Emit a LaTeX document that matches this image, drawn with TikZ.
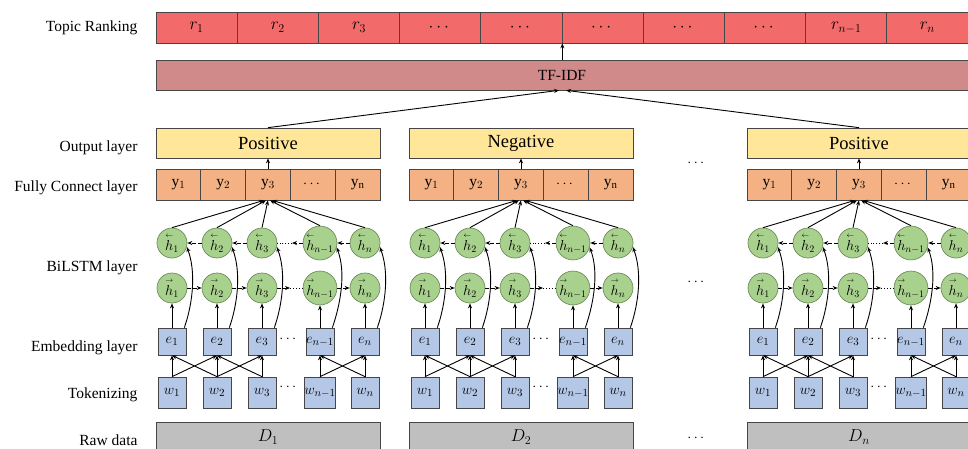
\documentclass[tikz,border=0pt]{standalone}
\usepackage{amsmath}
\usepackage{fontspec}
\setmainfont{Liberation Serif}
\usetikzlibrary{arrows.meta}
\definecolor{rankc}{RGB}{242,106,106}
\definecolor{tfc}{RGB}{208,138,138}
\definecolor{outc}{RGB}{255,230,153}
\definecolor{fcc}{RGB}{244,177,131}
\definecolor{circc}{RGB}{169,209,142}
\definecolor{circb}{RGB}{110,140,90}
\definecolor{bluec}{RGB}{180,199,231}
\definecolor{grayc}{RGB}{191,191,191}
\definecolor{bordc}{RGB}{70,70,70}
\newcommand{\bh}{\overset{\scriptscriptstyle\leftarrow}{h}}
\newcommand{\fh}{\overset{\scriptscriptstyle\rightarrow}{h}}
\begin{document}
\begin{tikzpicture}[x=1pt,y=-1pt,
  arr/.style={-{Stealth[length=5pt,width=4pt]}, line width=0.9pt},
  dsh/.style={arr, dash pattern=on 4pt off 2pt},
  lbl/.style={anchor=east, font=\fontsize{15.5}{18}\selectfont},
  rk/.style={draw=bordc, fill=rankc, line width=0.7pt, minimum width=81.2pt, minimum height=31pt, inner sep=0pt, font=\fontsize{18}{21}\selectfont},
  tfbox/.style={draw=bordc, fill=tfc, line width=0.7pt, minimum width=812pt, minimum height=30pt, inner sep=0pt, font=\fontsize{15.5}{18}\selectfont},
  outbox/.style={draw=bordc, fill=outc, line width=0.7pt, minimum width=224pt, minimum height=30pt, inner sep=0pt, font=\fontsize{18.5}{21}\selectfont},
  fc/.style={draw=bordc, fill=fcc, line width=0.7pt, minimum width=44.8pt, minimum height=31pt, inner sep=0pt, font=\fontsize{15.5}{18}\selectfont},
  circ/.style={circle, draw=circb, fill=circc, line width=0.7pt, minimum size=30pt, inner sep=0pt, font=\fontsize{14}{16}\selectfont},
  ebox/.style={draw=bordc, fill=bluec, line width=0.7pt, minimum width=28pt, minimum height=27pt, inner sep=0pt, font=\fontsize{15}{18}\selectfont},
  wbox/.style={draw=bordc, fill=bluec, line width=0.7pt, minimum width=28pt, minimum height=31pt, inner sep=0pt, font=\fontsize{15}{18}\selectfont},
  dbox/.style={draw=bordc, fill=grayc, line width=0.7pt, minimum width=224pt, minimum height=30pt, inner sep=0pt, font=\fontsize{16.5}{19}\selectfont},
  dots/.style={inner sep=0pt, font=\fontsize{14}{16}\selectfont}
]
\useasboundingbox (0,0) rectangle (968,449);
\clip (0,0) rectangle (968,449);

% left labels
\node[lbl] (l1) at (141,28) {Topic Ranking};
\node[lbl] (l2) at (141,148) {Output layer};
\node[lbl] (l3) at (141,188) {Fully Connect layer};
\node[lbl] (l4) at (141,268) {BiLSTM layer};
\node[lbl] (l5) at (141,348) {Embedding layer};
\node[lbl] (l6) at (141,395) {Tokenizing};
\node[lbl] (l7) at (141,440) {Raw data};

% topic ranking
\foreach \k/\s in {1/r_1,2/r_2,3/r_3,4/\cdots,5/\cdots,6/\cdots,7/\cdots,8/\cdots,9/r_{n-1},10/r_n}
  \node[rk] (r\k) at ({156+81.2*(\k-0.5)},27.5) {$\s$};

% TF-IDF
\node[tfbox] (tf) at (562,75) {TF-IDF};
\draw[arr] (r5.south east |- tf.north) -- (r5.south east);

% blocks
\foreach \b/\dx/\lab/\ds in {A/0/Positive/1,B/253/Negative/2,C/591/Positive/n}{
  \begin{scope}[xshift=\dx pt]
    \node[outbox] (\b-out) at (268,143) {\lab};
    \foreach \k/\s in {1/{\mathrm{y}_1},2/{\mathrm{y}_2},3/{\mathrm{y}_3},4/{\cdots},5/{\mathrm{y}_\mathrm{n}}}
      \node[fc] (\b-y\k) at ({133.6+44.8*\k},184.5) {$\s$};
    \foreach \k/\x/\s in {1/172/1,2/217/2,3/262/3,4/320/{n-1},5/365/n}{
      \node[circ] (\b-hb\k) at (\x,243) {$\bh_{\s}$};
      \node[circ] (\b-hf\k) at (\x,288) {$\fh_{\s}$};
      \node[ebox] (\b-e\k) at (\x,341.5) {$e_{\s}$};
      \node[wbox] (\b-w\k) at (\x,392.5) {$w_{\s}$};
    }
    \node[dbox] (\b-d) at (268,437) {$D_{\ds}$};
    \node[dots] (\b-de) at (289,339) {$\cdots$};
    \node[dots] (\b-dw) at (289,387) {$\cdots$};
    \coordinate (\b-mf) at (290,288);
    \coordinate (\b-mb) at (292,243);
  \end{scope}
  % connectors
  \draw[arr] (\b-y3.north) -- (\b-out.south);
  \foreach \k/\o in {1/-4,2/-2,3/0,4/2,5/4}
    \draw[arr] (\b-hb\k.north) -- ([xshift=\o pt]\b-y3.south);
  \foreach \k in {1,...,5}{
    \draw[arr] (\b-e\k.north) -- (\b-hf\k.south);
    \draw[arr] ([xshift=-2pt]\b-e\k.north east) .. controls +(9,-26) and +(9,24) .. (\b-hb\k.-15);
    \draw[arr] (\b-w\k.north) -- (\b-e\k.south);
  }
  \foreach \i/\j in {1/2,2/1,2/3,3/2,4/5,5/4}
    \draw[arr] (\b-w\i.north) -- (\b-e\j.south);
  % forward row
  \draw[dsh] (\b-hf1.east) -- (\b-hf2.west);
  \draw[dsh] (\b-hf2.east) -- (\b-hf3.west);
  \draw[dsh] (\b-hf3.east) -- (\b-mf);
  \draw[line width=0.9pt, dotted] (\b-mf) -- (\b-hf4.west);
  \draw[dsh] (\b-hf4.east) -- (\b-hf5.west);
  % backward row
  \draw[dsh] (\b-hb5.west) -- (\b-hb4.east);
  \draw[dsh] (\b-hb4.west) -- (\b-mb);
  \draw[line width=0.9pt, dotted] (\b-mb) -- (\b-hb3.east);
  \draw[dsh] (\b-hb3.west) -- (\b-hb2.east);
  \draw[dsh] (\b-hb2.west) -- (\b-hb1.east);
}

% between-block dots
\node[dots] (m1) at (697,163) {$\cdots$};
\node[dots] (m2) at (697,282) {$\cdots$};
\node[dots] (m3) at (697,438) {$\cdots$};

% to TF-IDF
\draw[arr] (A-out.north) -- ([xshift=-3pt]tf.south);
\draw[arr] (C-out.north) -- ([xshift=4pt]tf.south);
\end{tikzpicture}
\end{document}
